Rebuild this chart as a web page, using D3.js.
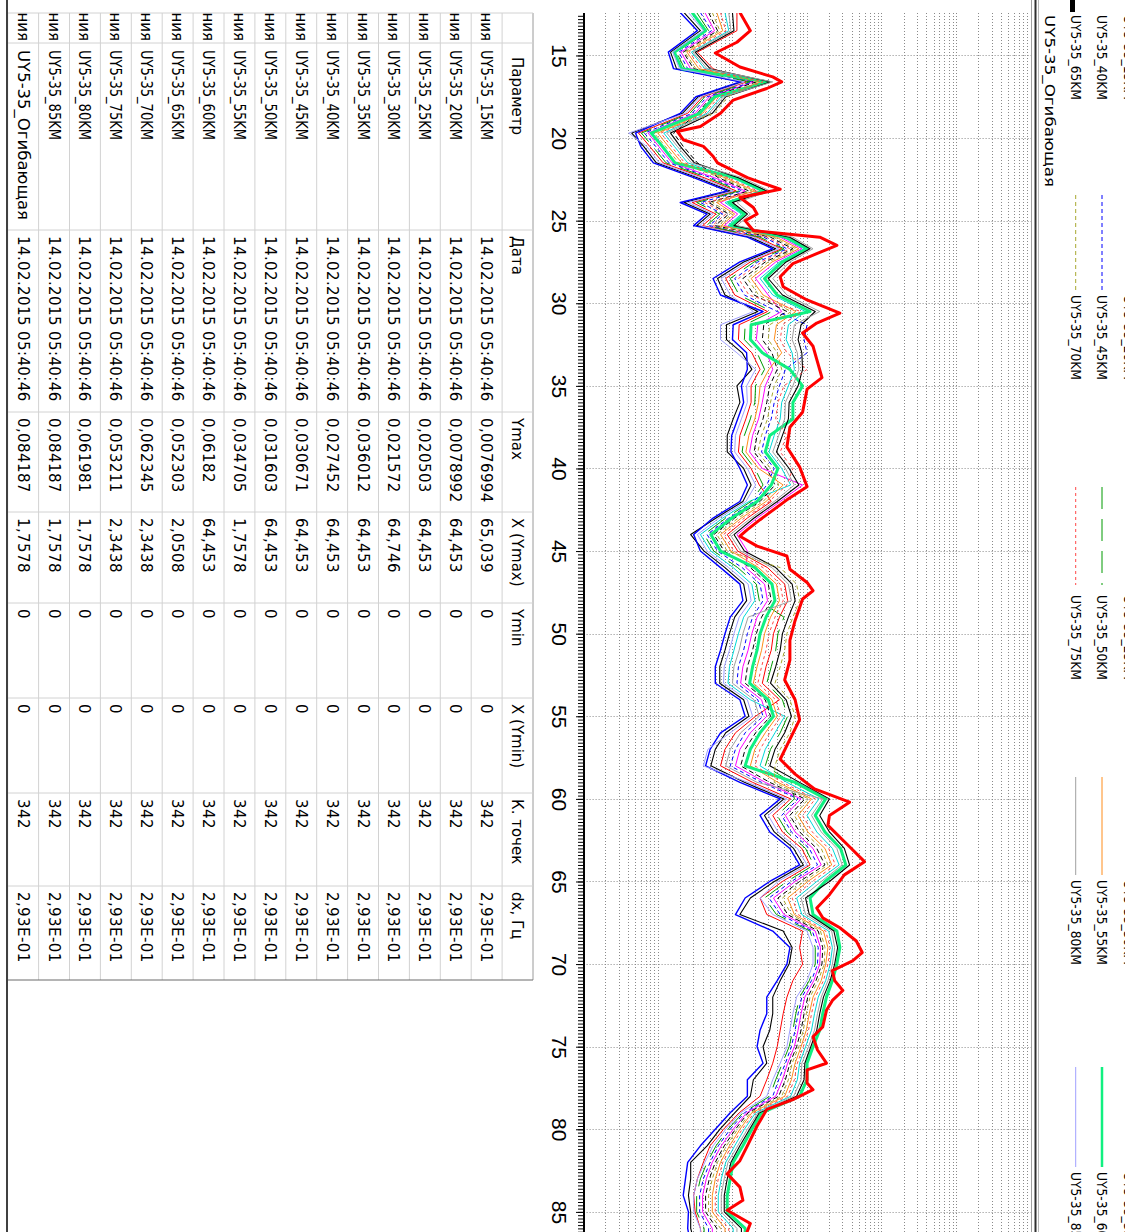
<!DOCTYPE html>
<html>
<head>
<meta charset="utf-8">
<script src="https://cdn.jsdelivr.net/npm/d3@7"></script>
<style>
  body { margin: 0; background: #fff; }
  svg { display: block; }
</style>
</head>
<body>
<svg id="chart" width="1125" height="1232"></svg>
<script>
// ---- data ---------------------------------------------------------------
// frequency grid, Hz
const freqs = [12.4, 13.5, 14.8, 15.8, 16.6, 17.5, 18.5, 19.7, 20.5, 21.5, 22.4, 23.2, 23.9, 24.6, 25.3, 26.0, 26.7, 27.5, 28.5, 29.5, 30.5, 31.3, 32.2,
  33, 34, 35, 36, 37, 38, 39, 40, 41, 42, 43, 44, 45, 46, 47, 48, 49, 50, 51, 52, 53, 54, 55, 56, 57, 58, 59, 60,
  61, 62, 63, 64, 65, 66, 67, 68, 69, 70, 71, 72, 73, 74, 75, 76, 77, 78, 79, 80, 81, 82, 83, 84, 85, 86, 87];

// log10 of the spectrum level (x 1e-6 units), one array per channel
const lgKM15 = [1.34, 1.56, 1.16, 1.24, 2.12, 1.53, 1.32, 0.64, 0.80, 0.97, 1.52, 1.96, 1.34, 1.69, 1.51, 2.23, 2.57, 2.14, 1.79, 1.89,
  2.33, 1.91, 1.91, 2.12, 2.25, 2.05, 2.09, 2.00, 1.92, 1.92, 2.14, 2.24, 2.13, 1.77, 1.43, 1.61, 1.89, 2.14, 2.18, 2.02,
  1.95, 1.89, 1.82, 1.82, 2.14, 2.21, 1.90, 1.76, 1.70, 2.15, 2.68, 2.42, 2.55, 2.81, 2.94, 2.55, 2.23,
  2.09, 2.67, 2.79, 2.75, 2.63, 2.53, 2.53, 2.49, 2.40, 2.45, 2.27, 2.23, 2.02, 1.82, 1.65, 1.43, 1.43, 1.40, 1.43, 1.43, 1.49];
const lgKM20 = [2.05, 2.05, 1.52, 1.73, 2.18, 1.59, 1.39, 0.73, 0.88, 1.06, 1.61, 2.04, 1.45, 1.77, 1.59, 2.32, 2.65, 2.23, 1.90, 2.02,
  2.46, 2.08, 2.07, 2.25, 2.36, 2.24, 2.24, 2.17, 2.09, 2.07, 2.24, 2.35, 2.51, 2.19, 1.92, 2.06, 2.46, 2.69, 2.73, 2.62,
  2.54, 2.51, 2.44, 2.39, 2.62, 2.30, 2.03, 1.89, 1.83, 2.26, 2.77, 2.53, 2.66, 2.92, 3.03, 2.66, 2.36,
  2.45, 2.93, 2.89, 2.93, 2.80, 2.72, 2.67, 2.63, 2.59, 2.53, 2.45, 2.36, 2.08, 1.87, 1.69, 1.60, 1.52, 1.47, 1.49, 1.56, 1.59];
const lgKM25 = [1.29, 1.52, 1.13, 1.20, 2.09, 1.50, 1.29, 0.69, 0.76, 0.93, 1.47, 1.92, 1.29, 1.65, 1.47, 2.19, 2.53, 2.09, 1.73, 1.83,
  2.40, 2.00, 1.99, 2.18, 2.19, 2.11, 2.14, 2.06, 1.98, 1.97, 2.09, 2.19, 2.09, 1.73, 1.47, 1.56, 1.83, 2.09, 2.13, 1.96,
  1.89, 1.83, 1.76, 1.76, 2.09, 2.16, 1.83, 1.69, 1.63, 2.09, 2.63, 2.36, 2.49, 2.76, 2.89, 2.49, 2.16,
  2.03, 2.53, 2.76, 2.72, 2.59, 2.45, 2.45, 2.36, 2.32, 2.40, 2.19, 2.19, 1.96, 1.76, 1.56, 1.39, 1.36, 1.33, 1.40, 1.39, 1.43];
const lgKM30 = [1.62, 1.75, 1.30, 1.43, 2.28, 1.68, 1.49, 0.86, 1.00, 1.18, 1.75, 2.16, 1.83, 2.06, 1.88, 2.63, 2.92, 2.57, 2.30, 2.47,
  2.65, 2.33, 2.31, 2.45, 2.53, 2.43, 2.39, 2.34, 2.26, 2.22, 2.39, 2.93, 2.63, 2.32, 2.05, 2.19, 2.17, 2.42, 2.46, 2.32,
  2.25, 2.20, 2.13, 2.10, 2.38, 2.45, 2.23, 2.09, 2.03, 2.43, 2.91, 2.70, 2.83, 3.07, 3.18, 2.83,
  2.54, 2.68, 3.10, 3.17, 3.16, 3.08, 2.96, 2.91, 2.87, 2.82, 2.73, 2.66, 2.57, 2.18, 2.00, 1.84, 1.72, 1.64, 1.59, 1.59, 1.72, 1.72];
const lgKM35 = [1.89, 1.94, 1.44, 1.62, 2.44, 1.84, 1.65, 1.07, 1.21, 1.39, 1.98, 2.37, 1.89, 2.11, 1.93, 2.67, 2.95, 2.62, 2.36, 2.53,
  2.97, 2.74, 2.71, 2.79, 2.82, 2.74, 2.65, 2.63, 2.55, 2.48, 2.65, 2.77, 2.21, 1.86, 1.56, 1.70, 2.00, 2.25, 2.29, 2.14,
  2.07, 2.01, 1.95, 1.93, 2.23, 2.69, 2.56, 2.43, 2.36, 2.72, 3.15, 2.99, 3.12, 3.33, 3.42, 3.12,
  2.85, 2.92, 3.28, 3.33, 3.30, 3.24, 3.14, 3.09, 3.05, 2.97, 2.89, 2.86, 2.77, 2.30, 2.15, 2.02, 1.90, 1.84, 1.80, 1.80, 2.00, 2.00];
const lgKM40 = [1.67, 1.79, 1.33, 1.47, 2.31, 1.71, 1.52, 1.20, 1.33, 1.52, 1.80, 2.21, 1.67, 1.94, 1.76, 2.50, 2.80, 2.43, 2.13, 2.28,
  2.72, 2.41, 2.39, 2.52, 2.59, 2.49, 2.45, 2.40, 2.32, 2.28, 2.45, 2.56, 2.36, 2.02, 1.74, 1.88, 2.23, 2.47, 2.51, 2.38,
  2.31, 2.26, 2.19, 2.16, 2.43, 2.50, 2.30, 2.16, 2.10, 2.49, 2.96, 2.76, 2.89, 3.12, 3.23, 2.89,
  2.60, 2.73, 3.14, 3.20, 3.19, 3.11, 3.00, 2.95, 2.91, 2.85, 2.76, 2.70, 2.61, 2.20, 2.03, 1.88, 1.76, 1.68, 1.63, 1.63, 1.78, 1.78];
const lgKM45 = [1.56, 1.71, 1.27, 1.39, 2.25, 1.65, 1.45, 0.81, 0.96, 1.14, 1.70, 2.12, 1.56, 1.86, 1.68, 2.41, 2.72, 2.33, 2.02, 2.15,
  2.59, 2.99, 2.95, 2.99, 2.70, 2.62, 2.55, 2.51, 2.43, 2.38, 2.55, 2.45, 2.28, 1.94, 1.65, 1.79, 2.12, 2.36, 2.40, 2.26,
  2.19, 2.14, 2.07, 2.05, 2.33, 2.40, 2.16, 2.03, 1.96, 2.38, 2.87, 2.65, 2.78, 3.02, 3.13, 2.78,
  2.48, 2.63, 3.06, 3.14, 3.13, 3.05, 2.92, 2.87, 2.83, 2.78, 2.70, 2.61, 2.53, 2.15, 1.96, 1.80, 1.69, 1.60, 1.55, 1.55, 1.67, 1.67];
const lgKM50 = [1.51, 1.67, 1.24, 1.35, 2.22, 1.62, 1.42, 0.77, 0.92, 1.10, 1.66, 2.08, 1.51, 1.82, 1.64, 2.36, 2.68, 2.28, 1.96, 2.08,
  2.52, 2.16, 2.15, 2.32, 2.42, 2.30, 2.29, 2.23, 2.15, 2.12, 2.29, 2.40, 2.24, 1.90, 1.61, 1.74, 2.06, 2.31, 2.35, 2.68,
  2.60, 2.57, 2.51, 2.45, 2.66, 2.73, 2.63, 2.50, 2.43, 2.78, 2.82, 2.59, 2.72, 2.97, 3.08, 2.72,
  2.42, 2.58, 3.03, 3.10, 3.10, 3.02, 2.89, 2.84, 2.80, 2.75, 2.66, 2.57, 2.49, 2.13, 1.93, 1.77, 1.65, 1.56, 1.51, 1.51, 1.61, 1.61];
const lgKM55 = [1.78, 1.86, 1.38, 1.54, 2.37, 1.78, 1.59, 0.99, 1.13, 1.31, 1.89, 2.29, 1.78, 2.02, 1.84, 2.58, 2.88, 2.52, 2.24, 2.40,
  2.84, 2.58, 2.55, 2.65, 2.48, 2.36, 2.34, 2.29, 2.21, 2.17, 2.34, 2.67, 2.44, 2.11, 1.83, 1.97, 2.34, 2.58, 2.62, 2.50,
  2.42, 2.38, 2.32, 2.27, 2.52, 2.59, 2.43, 2.29, 2.23, 2.60, 3.05, 2.87, 3.00, 3.23, 3.32, 3.00,
  2.73, 2.82, 3.21, 3.27, 3.24, 3.18, 3.07, 3.02, 2.98, 2.91, 2.83, 2.78, 2.69, 2.25, 2.09, 1.95, 1.83, 1.76, 1.72, 1.72, 1.89, 1.89];
const lgKM60 = [1.45, 1.63, 1.21, 1.31, 2.47, 1.75, 1.55, 0.90, 1.05, 1.22, 2.03, 2.41, 1.94, 2.15, 1.97, 2.71, 2.99, 2.66, 2.42, 2.59,
  3.03, 2.24, 2.23, 2.39, 2.76, 2.93, 2.80, 2.80, 2.49, 2.43, 2.60, 2.51, 2.32, 1.98, 1.70, 1.83, 2.29, 2.52, 2.56, 2.44,
  2.36, 2.32, 2.26, 2.22, 2.47, 2.54, 2.36, 2.23, 2.16, 2.83, 3.24, 3.10, 3.23, 3.44, 3.51, 3.23,
  3.03, 3.07, 3.39, 3.43, 3.39, 3.33, 3.25, 3.20, 3.16, 3.07, 2.99, 2.99, 2.89, 2.38, 2.25, 2.13, 2.00, 1.96, 1.92, 1.92, 2.16, 2.16];
const lgKM65 = [1.99, 2.01, 1.49, 1.69, 2.50, 1.90, 1.72, 1.16, 1.29, 1.48, 2.07, 2.45, 1.99, 2.19, 2.01, 2.76, 3.03, 2.71, 2.47, 2.66,
  3.10, 2.91, 2.87, 2.92, 2.93, 2.87, 2.75, 2.74, 2.66, 2.58, 2.75, 2.88, 2.59, 2.28, 2.01, 2.15, 2.57, 2.79, 2.83, 2.74,
  2.66, 2.63, 2.57, 2.50, 2.71, 2.78, 2.69, 2.56, 2.49, 2.89, 3.29, 3.16, 3.29, 3.49, 3.56, 3.29,
  2.97, 3.02, 3.35, 3.40, 3.36, 3.30, 3.21, 3.16, 3.12, 3.04, 2.96, 2.95, 2.85, 2.35, 2.22, 2.09, 1.97, 1.92, 1.88, 1.88, 2.11, 2.11];
const lgKM70 = [1.72, 1.82, 1.35, 1.50, 2.34, 1.93, 1.75, 0.94, 1.09, 1.27, 1.84, 2.25, 1.72, 1.98, 1.80, 2.54, 2.84, 2.47, 2.19, 2.34,
  2.78, 2.49, 2.47, 2.59, 2.65, 2.55, 2.50, 2.46, 2.38, 2.33, 2.50, 2.61, 2.40, 2.07, 1.78, 1.92, 2.63, 2.85, 2.89, 2.80,
  2.72, 2.69, 2.63, 2.56, 2.76, 2.83, 2.76, 2.63, 2.56, 2.55, 3.01, 2.82, 2.95, 3.18, 3.27, 2.95,
  2.66, 2.78, 3.17, 3.23, 3.22, 3.14, 3.03, 2.98, 2.94, 2.88, 2.79, 2.74, 2.65, 2.23, 2.06, 1.91, 1.79, 1.72, 1.67, 1.67, 1.83, 1.83];
const lgKM75 = [1.83, 1.90, 1.41, 1.58, 2.40, 1.81, 1.62, 1.03, 1.17, 1.35, 1.93, 2.33, 1.62, 1.90, 1.72, 2.45, 2.76, 2.38, 2.07, 2.21,
  2.91, 2.66, 2.63, 2.72, 2.99, 2.68, 2.60, 2.57, 2.72, 2.63, 2.80, 2.72, 2.48, 2.15, 1.87, 2.01, 2.40, 2.63, 2.67, 2.56,
  2.48, 2.44, 2.38, 2.33, 2.57, 2.64, 2.49, 2.36, 2.29, 2.66, 3.10, 2.93, 3.06, 3.28, 3.37, 3.06,
  2.79, 2.87, 3.24, 3.30, 3.27, 3.21, 3.10, 3.05, 3.01, 2.94, 2.86, 2.82, 2.73, 2.28, 2.12, 1.98, 1.86, 1.80, 1.76, 1.76, 1.94, 1.94];
const lgKM80 = [1.94, 1.97, 1.46, 1.65, 2.53, 1.87, 1.68, 1.11, 1.25, 1.44, 2.12, 2.49, 2.05, 2.23, 2.05, 2.80, 3.07, 2.76, 2.53, 2.72,
  3.16, 2.82, 2.79, 2.86, 2.88, 2.80, 2.70, 2.69, 2.61, 2.53, 2.70, 2.82, 2.55, 2.24, 1.96, 2.10, 2.52, 2.74, 2.78, 2.20,
  2.13, 2.08, 2.01, 1.99, 2.28, 2.35, 2.10, 1.96, 1.90, 2.32, 3.20, 3.05, 3.18, 3.39, 3.46, 3.18,
  2.91, 2.97, 3.32, 3.36, 3.33, 3.27, 3.18, 3.13, 3.09, 3.01, 2.92, 2.91, 2.81, 2.33, 2.19, 2.06, 1.93, 1.88, 1.84, 1.84, 2.05, 2.05];
const lgKM85 = [1.40, 1.60, 1.19, 1.28, 2.15, 1.56, 1.36, 0.60, 0.84, 1.01, 1.56, 2.00, 1.40, 1.73, 1.55, 2.28, 2.61, 2.19, 1.84, 1.96,
  2.27, 1.83, 1.83, 2.05, 2.30, 2.18, 2.19, 2.11, 2.03, 2.02, 2.19, 2.30, 2.17, 1.81, 1.52, 1.65, 1.94, 2.20, 2.24, 2.08,
  2.01, 1.95, 1.88, 1.87, 2.19, 2.26, 1.96, 1.66, 1.60, 2.20, 2.72, 2.47, 2.60, 2.86, 2.99, 2.60,
  2.36, 2.53, 2.99, 3.07, 3.07, 2.99, 2.85, 2.80, 2.76, 2.72, 2.63, 2.53, 2.45, 2.10, 1.90, 1.73, 1.62, 1.52, 1.47, 1.47, 1.56, 1.56];

// envelope (Огибающая) has its own, finer frequency points
const envFreqs = [12.4, 13.5, 14.2, 14.85, 15.7, 16.3, 16.6, 17.0, 17.7, 18.5, 19.3, 19.6, 20.1, 20.5, 21.1, 21.5, 22.4, 23.1, 23.6, 24.2,
  24.6, 25.0, 25.6, 26.0, 26.5, 27.0, 27.6, 28.4, 29.0, 29.8, 30.6, 31.2, 31.8, 32.6, 33.4, 34.5, 35.2, 36.6, 37.5, 38.7,
  39.9, 41.1, 41.9, 43.1, 43.7, 44.1, 44.7, 45.3, 46.1, 46.9, 47.4, 47.9, 49.2, 50.4, 51.6, 52.8, 54.0, 55.2, 56.4, 57.6,
  58.5, 59.4, 60.2, 61.0, 61.6, 62.9, 63.8, 64.6, 65.8, 66.6, 67.2, 67.8, 68.6, 69.3, 69.8, 70.4, 71.0, 71.6, 72.2, 72.8,
  73.8, 74.4, 75.2, 76.0, 76.4, 77.2, 77.6, 78.2, 78.8, 79.8, 81.0, 81.9, 82.7, 83.5, 84.3, 84.9, 85.7, 86.5, 87.5];
const lgEnvelope = [2.09, 2.23, 2.05, 1.76, 2.09, 2.53, 2.65, 2.45, 2.00, 1.83, 1.56, 1.25, 1.33, 1.60, 1.73, 1.79, 2.19, 2.63, 2.09, 2.27,
  2.32, 2.16, 2.27, 3.16, 3.39, 3.12, 2.80, 2.63, 2.67, 2.99, 3.43, 3.12, 2.93, 3.07, 3.12, 3.19, 2.99, 2.93, 2.76, 2.72,
  2.89, 2.99, 2.72, 2.36, 2.19, 2.09, 2.32, 2.72, 2.76, 2.99, 3.07, 2.93, 2.83, 2.76, 2.76, 2.69, 2.83, 2.89, 2.76, 2.63,
  2.83, 3.09, 3.56, 3.29, 3.27, 3.56, 3.76, 3.49, 3.29, 3.12, 3.20, 3.43, 3.65, 3.73, 3.60, 3.33, 3.36, 3.47, 3.33, 3.25,
  3.20, 3.07, 3.13, 3.25, 2.99, 2.99, 3.07, 2.80, 2.45, 2.32, 2.19, 2.09, 1.92, 2.09, 2.13, 1.92, 2.23, 2.16, 2.23];

const seriesNames = ['UY5-35_15KM', 'UY5-35_20KM', 'UY5-35_25KM', 'UY5-35_30KM', 'UY5-35_35KM',
  'UY5-35_40KM', 'UY5-35_45KM', 'UY5-35_50KM', 'UY5-35_55KM', 'UY5-35_60KM',
  'UY5-35_65KM', 'UY5-35_70KM', 'UY5-35_75KM', 'UY5-35_80KM', 'UY5-35_85KM', 'UY5-35_Огибающая'];
const seriesValues = [lgKM15, lgKM20, lgKM25, lgKM30, lgKM35, lgKM40, lgKM45, lgKM50,
  lgKM55, lgKM60, lgKM65, lgKM70, lgKM75, lgKM80, lgKM85, lgEnvelope];

// table columns
const tableHeaders = ['', 'Параметр', 'Дата', 'Ymax', 'X (Ymax)', 'Ymin', 'X (Ymin)', 'К. точек', 'dx, Гц'];
const tableDates = Array(16).fill('14.02.2015 05:40:46');
const tableYmax = ['0,0076994', '0,0078992', '0,020503', '0,021572', '0,036012', '0,027452', '0,030671', '0,031603',
  '0,034705', '0,06182', '0,052303', '0,062345', '0,053211', '0,061981', '0,084187', '0,084187'];
const tableXYmax = ['65,039', '64,453', '64,453', '64,746', '64,453', '64,453', '64,453', '64,453',
  '1,7578', '64,453', '2,0508', '2,3438', '2,3438', '1,7578', '1,7578', '1,7578'];
const tableYmin = Array(16).fill('0');
const tableXYmin = Array(16).fill('0');
const tablePoints = Array(16).fill('342');
const tableDx = Array(16).fill('2,93E-01');

// ---- styles --------------------------------------------------------------
const seriesColors = ['#000000', '#ff0000', '#0000ff', '#ff00ff', '#00d8d8', '#000000', '#0000ff', '#009a00',
  '#ff8c1a', '#10f080', '#000000', '#a8a830', '#ff4848', '#a0a0a0', '#a0a0ff', '#ff0000'];
const seriesWidths = [1.1, 1, 1.4, 1, 1, 1, 1, 1, 1, 3, 1.1, 1, 1, 1, 1, 3];
const seriesDash = [null, null, null, null, null, '5,3', '4,3', '22,10', null, null, null, '4,3', '3,3', null, null, null];
const FONT = '"DejaVu Sans", "Liberation Sans", sans-serif';

// ---- layout (drawn unrotated, then turned 90deg clockwise) ----------------
const svg = d3.select('#chart');
const root = svg.append('g').attr('transform', 'translate(1125,0) rotate(90)');

// squeeze/stretch a label to the width it has in the bitmap font of the original
function fitText(sel, len) {
  sel.attr('textLength', len).attr('lengthAdjust', 'spacingAndGlyphs');
}
const labelWidth = (s, latin, cyr) => /[А-я]/.test(s) ? cyr : latin;

const plotLeft = 13, plotTop = 93.4, plotBottom = 541;
const x = d3.scaleLinear().domain([12.43, 90]).range([plotLeft, 1294.5]);
const y = d3.scaleLog().domain([1, 1e6]).range([plotBottom, plotTop]);

root.append('clipPath').attr('id', 'plotClip')
  .append('rect').attr('x', plotLeft).attr('y', plotTop)
  .attr('width', 1300).attr('height', plotBottom - plotTop);

// grid
const grid = root.append('g').attr('clip-path', 'url(#plotClip)');
const logTicks = [];
for (let n = 0; n < 6; n++) for (let k = 1; k < 10; k++) logTicks.push(k * Math.pow(10, n));
grid.selectAll('line.h').data(logTicks).join('line')
  .attr('class', 'h')
  .attr('x1', plotLeft).attr('x2', 1300)
  .attr('y1', d => Math.round(y(d)) + 0.5).attr('y2', d => Math.round(y(d)) + 0.5)
  .attr('stroke', '#8a8a8a').attr('stroke-dasharray', '1,2');
grid.selectAll('line.v').data(d3.range(15, 90, 5)).join('line')
  .attr('class', 'v')
  .attr('x1', d => Math.round(x(d)) + 0.5).attr('x2', d => Math.round(x(d)) + 0.5)
  .attr('y1', plotTop).attr('y2', plotBottom)
  .attr('stroke', '#8a8a8a').attr('stroke-dasharray', '1,2');

// frame lines of the chart panel
root.append('line').attr('x1', 0).attr('x2', 1232).attr('y1', 93.5).attr('y2', 93.5).attr('stroke', '#a0a0a0');
root.append('line').attr('x1', 0).attr('x2', 1232).attr('y1', 89.5).attr('y2', 89.5).attr('stroke', '#303030').attr('stroke-width', 2);
root.append('line').attr('x1', 0).attr('x2', 1232).attr('y1', 86.5).attr('y2', 86.5).attr('stroke', '#b8b8b8');

// series
const lines = root.append('g').attr('clip-path', 'url(#plotClip)');
seriesValues.forEach((vals, i) => {
  const fx = (i === 15) ? envFreqs : freqs;
  const line = d3.line()
    .x((d, j) => x(fx[j]))
    .y(d => y(Math.pow(10, d)));
  lines.append('path')
    .attr('d', line(vals))
    .attr('fill', 'none')
    .attr('stroke', seriesColors[i])
    .attr('stroke-width', seriesWidths[i])
    .attr('stroke-dasharray', seriesDash[i])
    .attr('stroke-linejoin', 'round');
});

// frequency axis
root.append('g').attr('transform', `translate(0,${plotBottom})`)
  .call(d3.axisBottom(x).tickValues(d3.range(12.6, 90, 0.2)).tickSize(6).tickFormat(''))
  .call(g => g.select('.domain').remove())
  .call(g => g.selectAll('line').attr('stroke', '#000'));
root.append('g').attr('transform', `translate(0,${plotBottom})`)
  .call(d3.axisBottom(x).tickValues(d3.range(15, 90, 5)).tickSize(8).tickPadding(9))
  .call(g => g.select('.domain').remove())
  .call(g => g.selectAll('line').attr('stroke', '#000'))
  .call(g => g.selectAll('text')
    .attr('font-family', '"Liberation Sans Narrow", "Liberation Sans", Arial, sans-serif')
    .attr('font-size', 21).attr('fill', '#000'));
root.append('line').attr('x1', plotLeft).attr('x2', 1300)
  .attr('y1', plotBottom).attr('y2', plotBottom)
  .attr('stroke', '#000').attr('stroke-width', 2);

// legend (5 entries per row, first row mostly cut off at the top)
const legendLineX0 = [-90, 195, 487, 777, 1067];
const legendLineX1 = [-5, 290, 585, 875, 1167];
const legendTextX = [15, 295, 595, 880, 1172];
const legendBase = [1.5, 28, 54.3, 80.5];
const legend = root.append('g');
seriesNames.forEach((name, i) => {
  const r = Math.floor(i / 5), c = i % 5;
  legend.append('line')
    .attr('x1', legendLineX0[c]).attr('x2', legendLineX1[c])
    .attr('y1', legendBase[r] - 5).attr('y2', legendBase[r] - 5)
    .attr('stroke', seriesColors[i])
    .attr('stroke-width', Math.min(seriesWidths[i], 2.5))
    .attr('stroke-dasharray', seriesDash[i]);
  legend.append('text')
    .attr('x', legendTextX[c]).attr('y', legendBase[r])
    .attr('font-family', FONT).attr('font-size', 14.5)
    .attr('fill', '#000').text(name)
    .call(fitText, labelWidth(name, 85, 172));
});
legend.append('rect').attr('x', 0).attr('y', 50).attr('width', 12).attr('height', 5).attr('fill', '#000');

// statistics table
const colEdges = [13, 43, 230, 412, 512, 603, 698, 793, 886, 980];
const tableTop = 592, rowH = 30.9;
const tableRows = seriesNames.map((n, i) => ['Спектр ускорения', n, tableDates[i], tableYmax[i], tableXYmax[i],
  tableYmin[i], tableXYmin[i], tablePoints[i], tableDx[i]]);
const table = root.append('g');
root.append('clipPath').attr('id', 'firstCol')
  .append('rect').attr('x', colEdges[0]).attr('y', tableTop).attr('width', colEdges[1] - colEdges[0]).attr('height', 17 * rowH);

table.selectAll('line.row').data(d3.range(0, 18)).join('line')
  .attr('class', 'row')
  .attr('x1', colEdges[0]).attr('x2', colEdges[colEdges.length - 1])
  .attr('y1', d => tableTop + d * rowH).attr('y2', d => tableTop + d * rowH)
  .attr('stroke', d => d === 0 ? '#9a9a9a' : '#d2d2d2');
table.selectAll('line.col').data(colEdges).join('line')
  .attr('class', 'col')
  .attr('x1', d => d).attr('x2', d => d)
  .attr('y1', tableTop).attr('y2', tableTop + 17 * rowH)
  .attr('stroke', (d, i) => i === colEdges.length - 1 ? '#6a6a6a' : '#d2d2d2');

const cellText = (g, txt, c, r) => {
  const top = tableTop + r * rowH;
  const t = g.append('text')
    .attr('y', top + 21)
    .attr('font-family', FONT)
    .attr('font-size', 15).attr('fill', '#000').text(txt);
  if (c === 0) {
    t.attr('x', colEdges[1] - 2).attr('text-anchor', 'end').attr('clip-path', 'url(#firstCol)');
  } else if (c === 1 && r > 0) {
    t.attr('x', colEdges[c] + 7).call(fitText, labelWidth(txt, 90, 170));
  } else {
    t.attr('x', colEdges[c] + (r === 0 && c === 1 ? 14 : 6));
    if (c >= 2 && r > 0) t.attr('letter-spacing', 0.4);
  }
};
tableHeaders.forEach((h, c) => cellText(table, h, c, 0));
tableRows.forEach((row, r) => row.forEach((v, c) => cellText(table, v, c, r + 1)));

// outer border of the panel
root.append('line').attr('x1', 0).attr('x2', 1232).attr('y1', 1118).attr('y2', 1118)
  .attr('stroke', '#404040').attr('stroke-width', 2);
</script>
</body>
</html>
